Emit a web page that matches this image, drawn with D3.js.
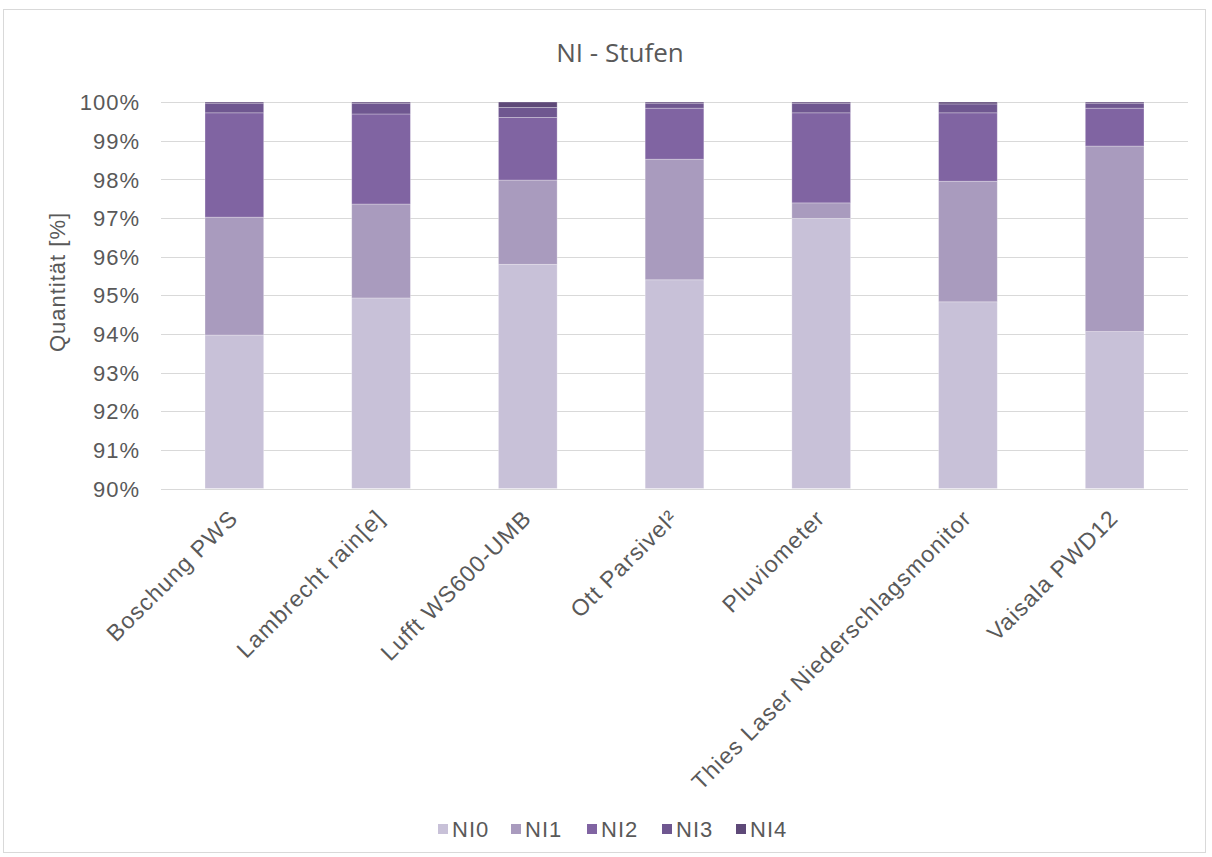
<!DOCTYPE html>
<html><head><meta charset="utf-8">
<script src="https://cdn.jsdelivr.net/npm/d3@7"></script>
<style>body{margin:0;background:#fff}svg{display:block}</style>
</head><body><svg id="c" width="1212" height="857"></svg>
<script>
const categories = ["Boschung PWS","Lambrecht rain[e]","Lufft WS600-UMB","Ott Parsivel²","Pluviometer","Thies Laser Niederschlagsmonitor","Vaisala PWD12"];
const seriesNames = ["NI0","NI1","NI2","NI3","NI4"];
const NI0 = [93.97, 94.93, 95.80, 95.40, 96.99, 94.83, 94.06];
const NI1 = [3.05, 2.43, 2.18, 3.12, 0.40, 3.12, 4.80];
const NI2 = [2.70, 2.33, 1.62, 1.32, 2.33, 1.77, 0.98];
const NI3 = [0.25, 0.28, 0.26, 0.13, 0.25, 0.23, 0.13];
const NI4 = [0.03, 0.03, 0.14, 0.03, 0.03, 0.05, 0.03];
const yTicks = [90,91,92,93,94,95,96,97,98,99,100];
const colors = ["#c8c1d8","#a99bbe","#8064a2","#6f5790","#5e4978"];

const seriesVals = [NI0,NI1,NI2,NI3,NI4];
const rows = categories.map((c,i)=>{const r={cat:c}; seriesNames.forEach((s,j)=>r[s]=seriesVals[j][i]); return r;});
const stack = d3.stack().keys(seriesNames)(rows);

const svg = d3.select("#c");
const font = "'Liberation Sans', Arial, sans-serif";
const txt = "#595959";

svg.append("rect").attr("x",3.5).attr("y",9.5).attr("width",1202).attr("height",843)
  .attr("fill","#fff").attr("stroke","#d9d9d9").attr("stroke-width",1);

const L=161, R=1188, T=102, B=488.5;
const x = d3.scaleBand().domain(categories).range([L,R]).paddingInner(0.6).paddingOuter(0.3);
const y = d3.scaleLinear().domain([90,100]).range([B,T]).clamp(true);

// gridlines
svg.append("g").selectAll("line").data(yTicks).join("line")
  .attr("x1",L).attr("x2",R).attr("y1",d=>Math.round(y(d))+0.5).attr("y2",d=>Math.round(y(d))+0.5)
  .attr("stroke","#d9d9d9").attr("stroke-width",1);

// y axis labels
const yAxis = d3.axisLeft(y).tickValues(yTicks).tickFormat(d=>d+"%").tickSize(0).tickPadding(0);
const ya = svg.append("g").attr("transform",`translate(140,0)`).call(yAxis);
ya.select(".domain").remove();
ya.selectAll("text").attr("font-family",font).attr("font-size",22).attr("fill",txt)
  .attr("letter-spacing","1px").attr("dy","0.35em");

// bars
svg.append("g").selectAll("g").data(stack).join("g").attr("fill",(d,i)=>colors[i])
  .selectAll("rect").data(d=>d).join("rect")
  .attr("x",d=>x(d.data.cat)).attr("width",x.bandwidth())
  .attr("y",d=>y(d[1])).attr("height",d=>Math.max(0,y(d[0])-y(d[1])))
  .attr("stroke","#ffffff").attr("stroke-opacity",0.35).attr("stroke-width",0.8);

// category labels
const xAxis = d3.axisBottom(x).tickSize(0).tickPadding(0);
const xa = svg.append("g").attr("transform",`translate(0,${B})`).call(xAxis);
xa.select(".domain").remove();
xa.selectAll("text").attr("font-family",font).attr("font-size",23).attr("fill",txt)
  .attr("letter-spacing","1.1px").attr("text-anchor","end").attr("dy",0)
  .attr("transform","translate(5,31) rotate(-45)");

// y title
svg.append("text").attr("transform","translate(65,282) rotate(-90)").attr("text-anchor","middle")
  .attr("font-family",font).attr("font-size",22).attr("letter-spacing","1px").attr("fill",txt).text("Quantität [%]");

// title
svg.append("text").attr("x",620).attr("y",62).attr("text-anchor","middle")
  .attr("font-family","'Open Sans', sans-serif").attr("font-size",26).attr("fill",txt).text("NI - Stufen");

// legend
const lg = svg.append("g").attr("transform","translate(438,829)");
const itemX = [0,73,149,224,298];
seriesNames.forEach((s,i)=>{
  const g = lg.append("g").attr("transform",`translate(${itemX[i]},0)`);
  g.append("rect").attr("x",0).attr("y",-5).attr("width",10).attr("height",10).attr("fill",colors[i]);
  g.append("text").attr("x",14).attr("y",0).attr("dy","0.35em").attr("font-family",font).attr("font-size",22)
    .attr("letter-spacing","1px").attr("fill",txt).text(s);
});
</script></body></html>
